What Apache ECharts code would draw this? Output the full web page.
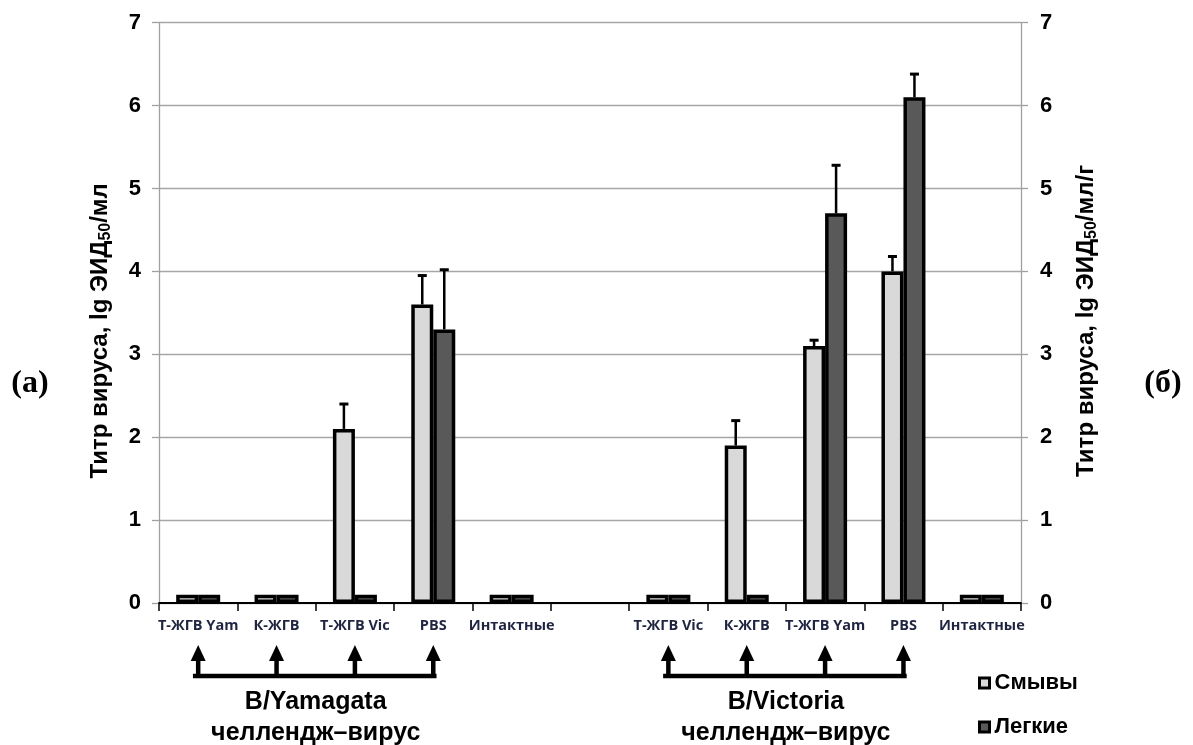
<!DOCTYPE html>
<html><head><meta charset="utf-8">
<script src="https://cdn.jsdelivr.net/npm/echarts@6/dist/echarts.min.js"></script>
<style>html,body{margin:0;padding:0;background:#fff}#c{width:1193px;height:745px}</style>
</head><body><div id="c"></div>
<script>
const categories = ['Т-ЖГВ Yam','К-ЖГВ','Т-ЖГВ Vic','PBS','Интактные','','Т-ЖГВ Vic','К-ЖГВ','Т-ЖГВ Yam','PBS','Интактные'];
const seriesNames = ['Смывы','Легкие'];
const smyvy      = [0.1, 0.1, 2.1, 3.6, 0.1, null, 0.1, 1.9, 3.1, 4.0, 0.1];
const smyvyUpper = [null, null, 2.4, 3.95, null, null, null, 2.2, 3.17, 4.18, null];
const legkie      = [0.1, 0.1, 0.1, 3.3, 0.1, null, 0.1, 0.1, 4.7, 6.1, 0.1];
const legkieUpper = [null, null, null, 4.02, null, null, null, null, 5.28, 6.38, null];
const yTicks = [0,1,2,3,4,5,6,7];
const groupYamagata = [0,1,2,3];
const groupVictoria = [6,7,8,9];
const groupLabels = [['B/Yamagata','челлендж–вирус'],['B/Victoria','челлендж–вирус']];

const BAR_W = 22;
const chart = echarts.init(document.getElementById('c'));
const nameRich = {
  n:{fontFamily:'Liberation Sans, Arial',fontWeight:'bold',fontSize:24,color:'#000'},
  sub:{fontFamily:'Liberation Sans, Arial',fontWeight:'bold',fontSize:16,color:'#000',verticalAlign:'bottom',padding:[11,0,0,0]}
};
function errSeries(upper, base, sign){
  const pts = [];
  upper.forEach((u,i)=>{ if(u!=null && base[i]!=null) pts.push([i, base[i], u]); });
  return {
    type:'custom', silent:true, z:5, yAxisIndex:0,
    encode:{x:0, y:[1,2]},
    data: pts,
    renderItem:(params, api)=>{
      const i = api.value(0);
      const p0 = api.coord([i, api.value(1)]);
      const p1 = api.coord([i, api.value(2)]);
      const x = p0[0] + sign*BAR_W/2;
      return {type:'group', children:[
        {type:'line', shape:{x1:x,y1:p0[1],x2:x,y2:p1[1]}, style:{stroke:'#000',lineWidth:2.5}},
        {type:'line', shape:{x1:x-4.5,y1:p1[1],x2:x+4.5,y2:p1[1]}, style:{stroke:'#000',lineWidth:3}}
      ]};
    }
  };
}
const yLab = {fontFamily:'Liberation Sans, Arial',fontWeight:'bold',fontSize:22,color:'#000'};
chart.setOption({
  animation:false,
  grid:{left:159,right:172,top:22.7,bottom:142,containLabel:false},
  legend:{
    data:seriesNames, orient:'vertical', left:973, top:667, itemGap:22,
    itemWidth:10, itemHeight:10, icon:'rect',
    itemStyle:{borderColor:'#000',borderWidth:3},
    textStyle:{fontFamily:'Liberation Sans, Arial',fontWeight:'bold',fontSize:22,color:'#000',padding:[0,0,0,0]}
  },
  xAxis:{
    type:'category', data:categories, boundaryGap:true,
    axisLine:{lineStyle:{color:'#000',width:2}},
    axisTick:{show:true,length:8,lineStyle:{color:'#000',width:1.5},interval:0},
    axisLabel:{interval:0,margin:15,fontFamily:'Open Sans, Liberation Sans',fontWeight:'bold',fontSize:14.5,color:'#1f2440'},
    splitLine:{show:false}
  },
  yAxis:[{
    type:'value', min:0, max:7, interval:1, position:'left',
    name:'{n|Титр вируса, lg ЭИД}{sub|50}{n|/мл}', nameLocation:'middle', nameRotate:90, nameGap:45,
    nameTextStyle:{rich:nameRich, padding:[0,36,0,0]},
    axisLine:{show:true,lineStyle:{color:'#a0a0a0',width:1.3}},
    axisTick:{show:true,length:7,lineStyle:{color:'#a0a0a0',width:1.3}},
    axisLabel:Object.assign({margin:18},yLab),
    splitLine:{show:true,lineStyle:{color:'#a6a6a6',width:1.3}}
  },{
    type:'value', min:0, max:7, interval:1, position:'right',
    name:'{n|Титр вируса, lg ЭИД}{sub|50}{n|/мл/г}', nameLocation:'middle', nameRotate:90, nameGap:52,
    nameTextStyle:{rich:nameRich, padding:[0,16,0,0]},
    axisLine:{show:true,lineStyle:{color:'#a0a0a0',width:1.3}},
    axisTick:{show:true,length:7,lineStyle:{color:'#a0a0a0',width:1.3}},
    axisLabel:Object.assign({margin:19},yLab),
    splitLine:{show:false}
  }],
  series:[
    {name:seriesNames[0], type:'bar', data:smyvy, barWidth:BAR_W, barGap:'0%',
     itemStyle:{color:'#d9d9d9',borderColor:'#000',borderWidth:3.5}},
    {name:seriesNames[1], type:'bar', data:legkie, barWidth:BAR_W, barGap:'0%',
     itemStyle:{color:'#595959',borderColor:'#000',borderWidth:3.5}},
    errSeries(smyvyUpper, smyvy, -1),
    errSeries(legkieUpper, legkie, 1)
  ]
});

function groupGraphics(idxs, labels){
  const xs = idxs.map(i => chart.convertToPixel({xAxisIndex:0}, i));
  const yLine = 676, yTip = 645, yHead = 660;
  const els = [];
  els.push({type:'line', shape:{x1:xs[0]-3,y1:yLine,x2:xs[xs.length-1]+1,y2:yLine}, style:{stroke:'#000',lineWidth:4.5,lineCap:'square'}});
  xs.forEach(x=>{
    els.push({type:'line', shape:{x1:x,y1:yLine,x2:x,y2:yHead}, style:{stroke:'#000',lineWidth:4.5}});
    els.push({type:'polygon', shape:{points:[[x-7.5,yHead+1],[x+7.5,yHead+1],[x,yTip]]}, style:{fill:'#000'}});
  });
  const cx = (xs[0]+xs[xs.length-1])/2;
  els.push({type:'text', x:cx, y:702, style:{text:labels[0], x:0,y:0, align:'center', verticalAlign:'middle', fontFamily:'Liberation Sans, Arial', fontWeight:'bold', fontSize:25, fill:'#000'}});
  els.push({type:'text', x:cx, y:733, style:{text:labels[1], x:0,y:0, align:'center', verticalAlign:'middle', fontFamily:'Liberation Sans, Arial', fontWeight:'bold', fontSize:25, fill:'#000'}});
  return els;
}
const gfx = [].concat(groupGraphics(groupYamagata, groupLabels[0]), groupGraphics(groupVictoria, groupLabels[1]));
gfx.push({type:'text', x:30, y:384, style:{text:'(а)', align:'center', verticalAlign:'middle', fontFamily:'Liberation Serif, Times New Roman', fontWeight:'bold', fontSize:32, fill:'#000'}});
gfx.push({type:'text', x:1163, y:384, style:{text:'(б)', align:'center', verticalAlign:'middle', fontFamily:'Liberation Serif, Times New Roman', fontWeight:'bold', fontSize:32, fill:'#000'}});
chart.setOption({graphic:{elements:gfx}});
</script></body></html>
